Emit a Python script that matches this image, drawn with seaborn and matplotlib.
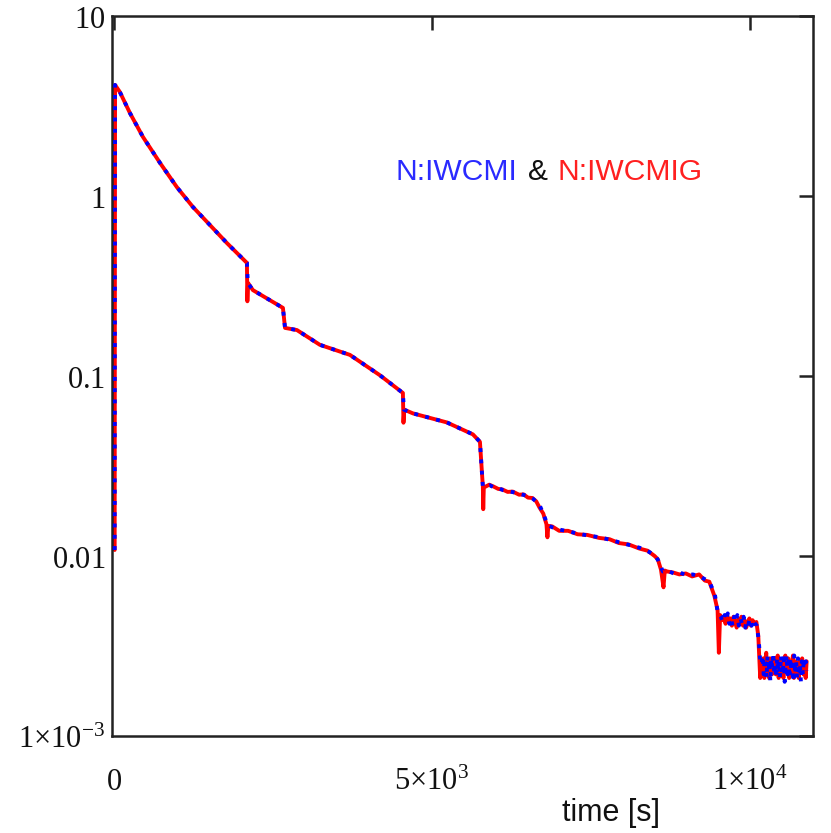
import matplotlib
matplotlib.use("Agg")
import matplotlib.pyplot as plt
import seaborn as sns
import pandas as pd
from matplotlib.ticker import FixedLocator, FixedFormatter, NullLocator

# ---- data, (time [s], value) pairs per segment ----
blue_decay = [(12, 0.0108), (18, 4.14), (94, 3.78), (252, 2.89), (456, 2.13), (723, 1.53),
              (990, 1.12), (1242, 0.869), (1509, 0.690), (1776, 0.548), (2091, 0.425),
              (2105, 0.329), (2185, 0.300), (2500, 0.258), (2657, 0.239), (2690, 0.185),
              (2877, 0.180), (3238, 0.149), (3710, 0.131), (4181, 0.101), (4543, 0.0805),
              (4560, 0.0650), (4700, 0.0620), (5235, 0.0552), (5643, 0.0474),
              (5754, 0.0431), (5800, 0.0243)]
blue_mid = [(5850, 0.0244), (5911, 0.0247), (5980, 0.0240), (6050, 0.0238), (6120, 0.0232),
            (6200, 0.0229), (6280, 0.0226), (6382, 0.0221), (6450, 0.0218), (6520, 0.0213),
            (6587, 0.0208), (6650, 0.0199), (6697, 0.0190), (6760, 0.0168), (6822, 0.0148),
            (6900, 0.0144), (7011, 0.0140), (7150, 0.0137), (7300, 0.0133), (7450, 0.0130),
            (7640, 0.0127), (7800, 0.0123), (7950, 0.0119), (8100, 0.0115), (8269, 0.0111),
            (8400, 0.0106), (8505, 0.0101), (8560, 0.0094), (8630, 0.0082), (8700, 0.0083),
            (8800, 0.0080), (8900, 0.0081), (9000, 0.0078), (9100, 0.0079), (9212, 0.0077),
            (9300, 0.0074), (9369, 0.0071), (9448, 0.0061), (9495, 0.0048)]
blue_step = [(9540, 0.0046), (9570, 0.0043), (9600, 0.0047), (9625, 0.0044), (9650, 0.0048),
             (9675, 0.0042), (9700, 0.0045), (9725, 0.0041), (9750, 0.0046), (9775, 0.0043),
             (9800, 0.0047), (9825, 0.0041), (9850, 0.0045), (9875, 0.0042), (9900, 0.0046),
             (9925, 0.0040), (9950, 0.0044), (9975, 0.0042), (10000, 0.0045), (10025, 0.0041),
             (10050, 0.0044), (10080, 0.0042), (10108, 0.0041), (10140, 0.0033),
             (10160, 0.0026)]
blue_tail = [(10180, 0.0025), (10200, 0.0028), (10215, 0.0022), (10230, 0.0027),
             (10245, 0.0024), (10260, 0.0021), (10275, 0.0028), (10290, 0.0023),
             (10305, 0.0026), (10320, 0.0020), (10335, 0.0027), (10350, 0.0024),
             (10365, 0.0029), (10380, 0.0022), (10395, 0.0025), (10410, 0.0021),
             (10425, 0.0027), (10440, 0.0023), (10455, 0.0026), (10470, 0.0021),
             (10485, 0.0028), (10500, 0.0024), (10515, 0.0022), (10530, 0.0027),
             (10545, 0.0020), (10560, 0.0025), (10575, 0.0028), (10590, 0.0022),
             (10605, 0.0026), (10620, 0.0021), (10635, 0.0027), (10650, 0.0023),
             (10665, 0.0025), (10680, 0.0020), (10695, 0.0028), (10710, 0.0022),
             (10725, 0.0026), (10740, 0.0021), (10755, 0.0027), (10770, 0.0023),
             (10785, 0.0025), (10800, 0.0020), (10815, 0.0026), (10830, 0.0022),
             (10845, 0.0027), (10860, 0.0024), (10875, 0.0026), (10890, 0.0023)]

red_decay = [(12, 0.0108), (18, 4.14), (94, 3.78), (252, 2.89), (456, 2.13), (723, 1.53),
             (990, 1.12), (1242, 0.869), (1509, 0.690), (1776, 0.548), (2091, 0.425),
             (2098, 0.26), (2108, 0.329), (2185, 0.300), (2500, 0.258), (2657, 0.239),
             (2690, 0.185), (2877, 0.180), (3238, 0.149), (3710, 0.131), (4181, 0.101),
             (4543, 0.0805), (4552, 0.055), (4565, 0.0650), (4700, 0.0620), (5235, 0.0552),
             (5643, 0.0474), (5754, 0.0431), (5800, 0.0243), (5806, 0.0182)]
red_mid = [(5815, 0.0240), (5900, 0.0249), (5970, 0.0243), (6040, 0.0236), (6110, 0.0234),
           (6190, 0.0227), (6270, 0.0228), (6370, 0.0219), (6440, 0.0220), (6510, 0.0211),
           (6580, 0.0210), (6640, 0.0201), (6690, 0.0186), (6750, 0.0172), (6800, 0.0150),
           (6815, 0.0127), (6830, 0.0147), (6890, 0.0146), (7000, 0.0138), (7140, 0.0138),
           (7290, 0.0132), (7440, 0.0131), (7630, 0.0126), (7790, 0.0124), (7940, 0.0118),
           (8090, 0.0116), (8260, 0.0110), (8390, 0.0107), (8500, 0.0100), (8550, 0.0096),
           (8600, 0.0084), (8640, 0.0067), (8660, 0.0083), (8700, 0.0082), (8790, 0.0081),
           (8890, 0.0079), (8990, 0.0080), (9090, 0.0077), (9200, 0.0079), (9290, 0.0073),
           (9360, 0.0072), (9440, 0.0060), (9490, 0.0050), (9510, 0.0029)]
red_step = [(9530, 0.0047), (9560, 0.0044), (9590, 0.0046), (9615, 0.0042), (9640, 0.0047),
            (9665, 0.0043), (9690, 0.0045), (9715, 0.0041), (9740, 0.0046), (9765, 0.0043),
            (9790, 0.0040), (9815, 0.0045), (9840, 0.0042), (9865, 0.0046), (9890, 0.0041),
            (9915, 0.0044), (9940, 0.0040), (9965, 0.0043), (9990, 0.0045), (10015, 0.0041),
            (10040, 0.0044), (10070, 0.0042), (10100, 0.0043), (10130, 0.0036),
            (10160, 0.0021)]
red_tail = [(10175, 0.0026), (10195, 0.0023), (10210, 0.0027), (10225, 0.0021),
            (10240, 0.0026), (10255, 0.0029), (10270, 0.0023), (10285, 0.0025),
            (10300, 0.0021), (10315, 0.0027), (10330, 0.0024), (10345, 0.0022),
            (10360, 0.0026), (10375, 0.0023), (10390, 0.0027), (10405, 0.0022),
            (10420, 0.0025), (10435, 0.0028), (10450, 0.0021), (10465, 0.0024),
            (10480, 0.0026), (10495, 0.0022), (10510, 0.0025), (10525, 0.0021),
            (10540, 0.0026), (10555, 0.0028), (10570, 0.0023), (10585, 0.0024),
            (10600, 0.0027), (10615, 0.0021), (10630, 0.0025), (10645, 0.0022),
            (10660, 0.0026), (10675, 0.0028), (10690, 0.0021), (10705, 0.0024),
            (10720, 0.0026), (10735, 0.0022), (10750, 0.0025), (10765, 0.0021),
            (10780, 0.0026), (10800, 0.0023), (10820, 0.0027), (10840, 0.0022),
            (10860, 0.0025), (10875, 0.0021), (10890, 0.0026)]

x_ticks = [0, 5000, 10000]
x_ticklabels = [r"$\mathrm{0}$", r"$\mathrm{5{\times}10^{3}}$", r"$\mathrm{1{\times}10^{4}}$"]
y_ticks = [1e-3, 1e-2, 1e-1, 1, 10]
y_ticklabels = [r"$\mathrm{1{\times}10^{-3}}$", r"$\mathrm{0.01}$", r"$\mathrm{0.1}$",
                r"$\mathrm{1}$", r"$\mathrm{10}$"]
series_names = ["N:IWCMI", "N:IWCMIG"]


def to_frame(*segments):
    pts = [p for seg in segments for p in seg]
    return pd.DataFrame({"t": [p[0] for p in pts], "v": [p[1] for p in pts]})


df_blue = to_frame(blue_decay, blue_mid, blue_step, blue_tail)
df_red = to_frame(red_decay, red_mid, red_step, red_tail)

# ---- figure ----
sns.set_style("white")
plt.rcParams['mathtext.fontset'] = 'custom'
plt.rcParams['mathtext.rm'] = 'Liberation Serif'
plt.rcParams['mathtext.it'] = 'Liberation Serif:italic'
plt.rcParams['font.family'] = ['Liberation Sans', 'DejaVu Sans']

W, H = 831, 833
fig = plt.figure(figsize=(W / 100, H / 100), dpi=100)
L, R, T, B = 112, 813, 16, 736
ax = fig.add_axes([L / W, 1 - B / H, (R - L) / W, (B - T) / H])

sns.lineplot(data=df_red, x="t", y="v", ax=ax, color="#ff0000", lw=2.8,
             sort=False, estimator=None, zorder=2)
sns.lineplot(data=df_blue, x="t", y="v", ax=ax, color="#0000ff", lw=2.8,
             sort=False, estimator=None, zorder=3, linestyle=(0, (1.0, 1.9)))

ax.set_yscale("log")
ax.set_xlim(-30, 10990)
ax.set_ylim(1e-3, 10)

ax.xaxis.set_major_locator(FixedLocator(x_ticks))
ax.xaxis.set_major_formatter(FixedFormatter(x_ticklabels))
ax.yaxis.set_major_locator(FixedLocator(y_ticks))
ax.yaxis.set_major_formatter(FixedFormatter(y_ticklabels))
ax.xaxis.set_minor_locator(NullLocator())
ax.yaxis.set_minor_locator(NullLocator())

ax.tick_params(axis="both", which="major", direction="in", length=10, width=1.8,
               color="#222222", top=True, right=True, labelsize=22, labelcolor="#111111")
ax.tick_params(axis="y", pad=5)
ax.tick_params(axis="x", pad=39)
for lbl in ax.get_xticklabels():
    lbl.set_va("baseline")

for s in ax.spines.values():
    s.set_visible(True)
    s.set_color("#222222")
    s.set_linewidth(1.8)

ax.set_xlabel("time [s]", fontsize=22, color="#111111", family=["Liberation Sans"])
ax.set_ylabel("")
ax.xaxis.set_label_coords((611 - L) / (R - L), (B - 813) / (B - T))
ax.xaxis.label.set_va("center")

ty = 1 - 172 / H
fs = 21.6
fig.text(395 / W, ty, series_names[0], color="#2a2aff", fontsize=fs, va="center", ha="left",
         family=["Liberation Sans"])
fig.text(528 / W, ty, "&", color="#111111", fontsize=fs, va="center", ha="left",
         family=["Liberation Sans"])
fig.text(558 / W, ty, series_names[1], color="#ff2020", fontsize=fs, va="center", ha="left",
         family=["Liberation Sans"])

fig.savefig("out.png", dpi=100)
